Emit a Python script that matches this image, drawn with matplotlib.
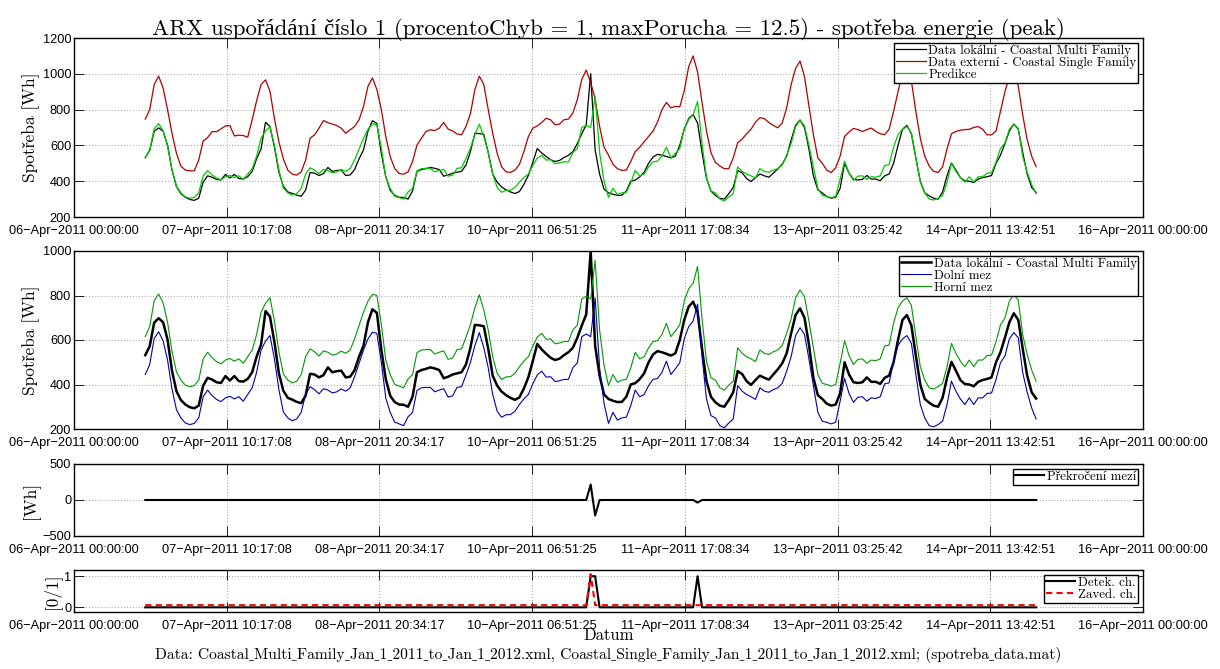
import numpy as np
import pandas as pd
import matplotlib
matplotlib.use("Agg")
import matplotlib.pyplot as plt

# ---------------------------------------------------------------- data
start = "2011-04-06 16:00"

# hourly peak consumption, local building (Coastal Multi Family)
local_multi = [
    532, 572, 678, 698, 680, 602, 462, 370,
    330, 310, 298, 293, 305, 395, 430, 422, 410, 407, 438, 418, 438, 415, 413, 425, 455, 525, 580, 730, 705, 590, 450, 372,
    340, 332, 322, 316, 350, 448, 445, 432, 442, 477, 455, 460, 462, 432, 435, 465, 525, 575, 680, 738, 722, 556, 424, 349,
    321, 310, 309, 300, 345, 455, 465, 470, 477, 472, 465, 428, 435, 445, 450, 455, 490, 565, 668, 666, 662, 560, 440, 395,
    368, 352, 340, 331, 342, 382, 432, 505, 582, 558, 538, 520, 510, 516, 532, 545, 565, 610, 665, 715, 1000, 574, 440, 355,
    335, 327, 321, 322, 345, 400, 406, 424, 450, 500, 535, 550, 545, 538, 530, 540, 600, 690, 750, 772, 725, 560, 415, 345,
    320, 305, 300, 330, 365, 460, 447, 415, 398, 420, 440, 430, 422, 445, 468, 495, 540, 630, 712, 742, 700, 580, 430, 352,
    335, 314, 305, 310, 360, 500, 445, 410, 407, 410, 432, 412, 412, 403, 430, 440, 500, 600, 690, 712, 665, 530, 400, 335,
    318, 305, 300, 340, 430, 502, 462, 420, 402, 400, 392, 412, 420, 425, 432, 500, 545, 610, 680, 720, 690, 560, 440, 365, 337,
]

# hourly peak consumption, external building (Coastal Single Family)
external_single = [
    747, 800, 940, 987, 921, 800, 668, 556,
    484, 462, 458, 458, 518, 625, 644, 677, 677, 692, 709, 711, 653, 657, 655, 646, 743, 850, 940, 966, 902, 750, 620, 525,
    462, 439, 434, 452, 518, 640, 659, 696, 739, 727, 719, 711, 696, 668, 687, 706, 743, 818, 930, 977, 912, 800, 649, 537,
    471, 443, 439, 452, 509, 602, 640, 677, 687, 683, 696, 728, 691, 681, 664, 659, 706, 777, 912, 987, 940, 800, 668, 556,
    481, 452, 449, 462, 494, 565, 649, 696, 709, 728, 752, 743, 715, 719, 743, 747, 781, 856, 968, 1021, 950, 860, 706, 590,
    545, 495, 470, 460, 462, 510, 565, 590, 620, 650, 680, 730, 800, 840, 810, 818, 815, 905, 1040, 1100, 1010, 840, 680, 560,
    505, 485, 470, 470, 530, 615, 635, 665, 690, 730, 755, 750, 728, 712, 698, 725, 810, 940, 1030, 1071, 985, 820, 660, 530,
    500, 462, 448, 475, 540, 650, 675, 695, 688, 678, 688, 697, 678, 665, 660, 690, 790, 900, 1010, 1078, 960, 790, 640, 540,
    485, 455, 448, 480, 580, 665, 678, 685, 688, 690, 700, 705, 690, 659, 659, 680, 790, 900, 985, 1025, 930, 770, 631, 540, 481,
]

# ARX one-step prediction of the local consumption
prediction = [
    530, 575, 692, 722, 682, 595, 465, 372,
    335, 312, 305, 310, 335, 430, 460, 435, 418, 408, 425, 432, 420, 430, 410, 440, 470, 540, 640, 680, 705, 600, 462, 362,
    335, 322, 330, 360, 440, 475, 462, 443, 466, 460, 447, 452, 465, 455, 470, 520, 580, 640, 690, 720, 715, 584, 424, 359,
    316, 308, 300, 340, 359, 458, 470, 472, 472, 452, 460, 466, 428, 434, 472, 475, 527, 584, 660, 718, 650, 560, 440, 365,
    338, 349, 350, 365, 395, 420, 440, 488, 528, 545, 518, 520, 498, 502, 508, 508, 560, 582, 700, 712, 700, 874, 560, 400,
    310, 360, 325, 335, 338, 390, 460, 430, 440, 480, 508, 512, 540, 590, 530, 555, 583, 690, 745, 770, 846, 610, 420, 345,
    335, 300, 290, 312, 330, 480, 455, 440, 430, 418, 470, 455, 450, 462, 470, 490, 545, 610, 705, 740, 710, 600, 480, 360,
    320, 315, 308, 315, 410, 512, 445, 405, 428, 430, 410, 425, 422, 430, 488, 492, 590, 660, 690, 705, 670, 530, 395, 335,
    300, 295, 305, 320, 395, 500, 455, 420, 395, 425, 395, 425, 425, 445, 447, 507, 583, 613, 690, 718, 695, 538, 450, 380, 330,
]

# half-width of the tolerance band around the prediction [Wh]
band = 85

# samples where the measurement left the band, and by how much [Wh]
exceed_times = ["2011-04-10 20:00", "2011-04-10 21:00", "2011-04-11 20:00"]
exceed_values = [215, -215, -36]

# detected faults and the fault that was introduced on purpose
detected_times = ["2011-04-10 20:00", "2011-04-10 21:00", "2011-04-11 20:00"]
introduced_times = ["2011-04-10 20:00"]

tick_labels = [
    "06-Apr-2011 00:00:00", "07-Apr-2011 10:17:08", "08-Apr-2011 20:34:17",
    "10-Apr-2011 06:51:25", "11-Apr-2011 17:08:34", "13-Apr-2011 03:25:42",
    "14-Apr-2011 13:42:51", "16-Apr-2011 00:00:00",
]

# ---------------------------------------------------------------- series
t = pd.date_range(start, periods=len(local_multi), freq="h")
local_multi = np.array(local_multi, float)
external_single = np.array(external_single, float)
prediction = np.array(prediction, float)
lower = prediction - band
upper = prediction + band

exceed = pd.Series(0.0, index=t)
exceed[pd.to_datetime(exceed_times)] = exceed_values
detected = pd.Series(0.0, index=t)
detected[pd.to_datetime(detected_times)] = 1.0
introduced = pd.Series(0.0, index=t)
introduced[pd.to_datetime(introduced_times)] = 1.0

tick_pos = pd.to_datetime(tick_labels, format="%d-%b-%Y %H:%M:%S")
tick_text = [s.replace("-", "\u2212") for s in tick_labels]

# ---------------------------------------------------------------- style
# Computer Modern for the Latin letters, a Times-like face for the Czech
# accented letters and the low line that cmr10 does not carry.
SERIF = ["cmr10", "Liberation Serif", "DejaVu Serif"]
SANS = ["Liberation Sans", "DejaVu Sans"]
LOWLINE = "\u02cd"

W, H = 1220, 669
fig = plt.figure(figsize=(W / 100, H / 100), dpi=100)


def box(top, bottom, left=74, right=1143):
    return [left / W, 1 - bottom / H, (right - left) / W, (bottom - top) / H]


def style(ax, yticks, ylim):
    ax.set_xlim(tick_pos[0], tick_pos[-1])
    ax.set_xticks(tick_pos)
    ax.set_xticklabels(tick_text)
    ax.set_ylim(*ylim)
    ax.set_yticks(yticks)
    ax.set_yticklabels([f"{v:g}".replace("-", "\u2212") for v in yticks])
    ax.tick_params(direction="in", length=7, width=0.6, top=True, right=True,
                   labelsize=9.2, colors="black")
    ax.tick_params(axis="x", pad=5.5)
    ax.tick_params(axis="y", pad=2)
    for lab in ax.get_xticklabels() + ax.get_yticklabels():
        lab.set_family(SANS)
    ax.grid(True, color="#808080", linestyle=(0, (1, 2.5)), linewidth=0.6)
    ax.set_axisbelow(True)
    for sp in ax.spines.values():
        sp.set_linewidth(1.0)


def legend(ax, **kw):
    leg = ax.legend(loc="upper right", prop={"family": SERIF, "size": 9.3},
                    frameon=True, fancybox=False, edgecolor="black",
                    framealpha=1, borderpad=0.15, labelspacing=0.0,
                    handlelength=2.3, handletextpad=0.2, borderaxespad=0.35, **kw)
    leg.get_frame().set_linewidth(1.0)
    return leg


# panel 1: measured data and prediction
ax1 = fig.add_axes(box(38, 217))
ax1.plot(t, local_multi, color="black", lw=0.9, label="Data lokální - Coastal Multi Family")
ax1.plot(t, external_single, color="#b00000", lw=0.9, label="Data externí - Coastal Single Family")
ax1.plot(t, prediction, color="#00cc00", lw=0.9, label="Predikce")
style(ax1, [200, 400, 600, 800, 1000, 1200], (200, 1200))
ax1.set_ylabel("Spotřeba [Wh]", family=SERIF, fontsize=12.5, labelpad=2)
legend(ax1)
ax1.set_title("ARX uspořádání číslo 1 (procentoChyb = 1, maxPorucha = 12.5) - spotřeba energie (peak)",
              family=SERIF, fontsize=16.5, pad=2)

# panel 2: measured data against the tolerance band
ax2 = fig.add_axes(box(251, 429))
ax2.plot(t, local_multi, color="black", lw=1.8, label="Data lokální - Coastal Multi Family")
ax2.plot(t, lower, color="#0000b0", lw=0.8, label="Dolní mez")
ax2.plot(t, upper, color="#009900", lw=0.8, label="Horní mez")
style(ax2, [200, 400, 600, 800, 1000], (200, 1000))
ax2.set_ylabel("Spotřeba [Wh]", family=SERIF, fontsize=12.5, labelpad=2)
legend(ax2)

# panel 3: amount by which the band was exceeded
ax3 = fig.add_axes(box(464, 536))
ax3.plot(t, exceed.values, color="black", lw=1.5, label="Překročení mezí")
style(ax3, [-500, 0, 500], (-500, 500))
ax3.set_ylabel("[Wh]", family=SERIF, fontsize=12.5, labelpad=2)
legend(ax3)

# panel 4: detected vs. introduced faults
ax4 = fig.add_axes(box(570, 612))
ax4.plot(t, detected.values, color="black", lw=1.5, label="Detek. ch.")
ax4.plot(t, introduced.values + 0.07, color="#ff0000", lw=1.5, linestyle=(0, (3, 2)),
         label="Zaved. ch.")
style(ax4, [0, 1], (-0.15, 1.2))
ax4.set_ylabel("[0/1]", family=SERIF, fontsize=12.5, labelpad=2)
ax4.set_xlabel("Datum", family=SERIF, fontsize=12, labelpad=-3)
legend(ax4)

source = ("Data: Coastal_Multi_Family_Jan_1_2011_to_Jan_1_2012.xml, "
          "Coastal_Single_Family_Jan_1_2011_to_Jan_1_2012.xml; (spotreba_data.mat)")
fig.text(0.5 * (74 + 1143) / W, 1 - 655 / H, source.replace("_", LOWLINE),
         family=SERIF, fontsize=11.2, ha="center", va="center")

fig.savefig("out.png", dpi=100)
